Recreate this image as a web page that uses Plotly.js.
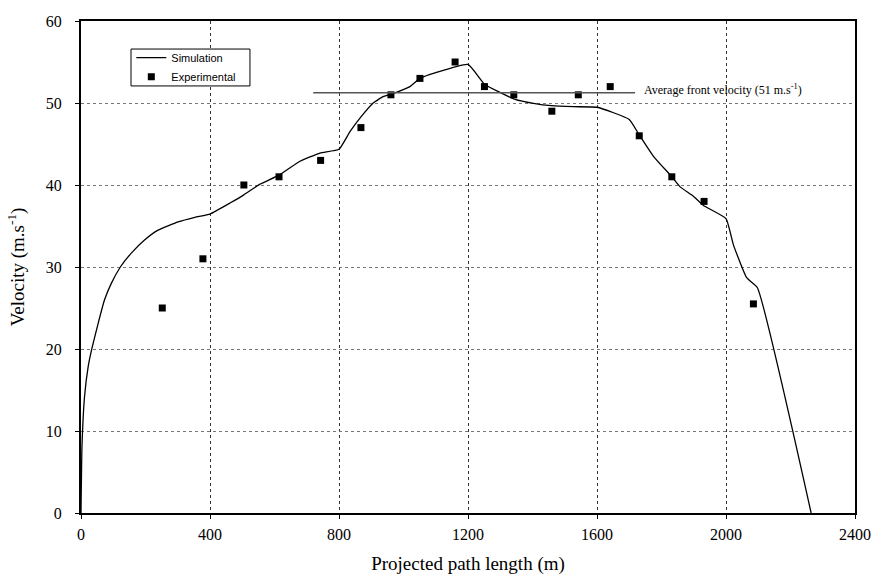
<!DOCTYPE html>
<html>
<head>
<meta charset="utf-8">
<script src="https://cdn.plot.ly/plotly-3.0.1.min.js"></script>
<style>html,body{margin:0;padding:0;background:#fff;}#chart{width:878px;height:578px;}</style>
</head>
<body>
<div id="chart"></div>
<script>
// Simulation curve (projected path length in m, velocity in m/s)
var simX = [0, 3, 11, 22, 34, 53, 73, 94, 122, 156, 197, 239, 301, 353, 400, 462, 505, 555, 614, 679, 741, 800, 834, 868, 906, 937, 961, 1020, 1051, 1100, 1200, 1251, 1299, 1346, 1403, 1459, 1527, 1600, 1700, 1731, 1775, 1832, 1857, 1898, 1930, 2000, 2023, 2064, 2097, 2264];
var simY = [0, 8.1, 14.2, 17.8, 20.1, 23.1, 26.0, 28.0, 30.0, 31.7, 33.3, 34.5, 35.5, 36.06, 36.46, 37.8, 38.8, 40.1, 41.2, 42.9, 43.9, 44.35, 46.5, 48.3, 50.0, 50.77, 51.06, 52.0, 53.0, 53.7, 54.7, 52.3, 51.3, 50.45, 49.96, 49.67, 49.55, 49.48, 48.0, 46.1, 43.5, 41.0, 39.8, 38.66, 37.5, 35.9, 32.7, 28.7, 27.5, 0];

// Experimental points
var expX = [252, 378, 505, 614, 743, 868, 961, 1051, 1160, 1251, 1342, 1460, 1542, 1641, 1731, 1832, 1932, 2085];
var expY = [25, 31, 40, 41, 43, 47, 51, 53, 55, 52, 51, 49, 51, 52, 46, 41, 38, 25.5];

// Average front velocity line
var avgX = [720, 1718];
var avgY = [51.25, 51.25];
var avgLabel = "Average front velocity (51 m.s<sup>-1</sup>)";

var xTicks = [0, 400, 800, 1200, 1600, 2000, 2400];
var yTicks = [0, 10, 20, 30, 40, 50, 60];

var traces = [
  {x: simX, y: simY, mode: 'lines', name: 'Simulation', line: {color: '#000', width: 1.3, shape: 'spline', smoothing: 0.4}},
  {x: expX, y: expY, mode: 'markers', name: 'Experimental', marker: {symbol: 'square', size: 7, color: '#000'}},
  {x: avgX, y: avgY, mode: 'lines', showlegend: false, line: {color: '#555', width: 1.5}, hoverinfo: 'skip'}
];

var serif = '"Liberation Serif", "Times New Roman", serif';
var layout = {
  width: 878, height: 578,
  margin: {l: 81, r: 23, t: 21, b: 65},
  paper_bgcolor: '#fff', plot_bgcolor: '#fff',
  showlegend: true,
  legend: {x: 0.065, y: 0.955, xanchor: 'left', yanchor: 'top', bgcolor: 'rgba(0,0,0,0)', borderwidth: 0,
           font: {family: '"Liberation Sans", Arial, sans-serif', size: 11, color: '#000'}, tracegroupgap: 0, itemwidth: 30},
  shapes: [
    {type: 'rect', xref: 'paper', yref: 'paper', x0: 0.0646, x1: 0.2183, y0: 0.868, y1: 0.943,
     fillcolor: '#fff', line: {color: '#000', width: 1}, layer: 'above'}
  ],
  xaxis: {range: [0, 2400], tickvals: xTicks, ticktext: xTicks.map(String), showline: true, linecolor: '#000', linewidth: 2, mirror: true,
          ticks: 'outside', ticklen: 4, tickcolor: '#000', showgrid: true, gridcolor: '#333', griddash: 'dot', gridwidth: 1, zeroline: false,
          tickfont: {family: serif, size: 16, color: '#000'}, ticklabelstandoff: 2,
          title: {text: 'Projected path length (m)', font: {family: serif, size: 19, color: '#000'}, standoff: 14}},
  yaxis: {range: [0, 60], tickvals: yTicks, ticktext: yTicks.map(String), showline: true, linecolor: '#000', linewidth: 2, mirror: true,
          ticks: 'outside', ticklen: 4, tickcolor: '#000', showgrid: true, gridcolor: '#777', griddash: 'dot', gridwidth: 1, zeroline: false,
          tickfont: {family: serif, size: 16, color: '#000'}, ticklabelstandoff: 10,
          title: {text: 'Velocity (m.s<sup>-1</sup>)', font: {family: serif, size: 19, color: '#000'}, standoff: 16}},
  annotations: [
    {x: 1741, y: 51.7, xref: 'x', yref: 'y', text: avgLabel, showarrow: false, xanchor: 'left', yanchor: 'middle',
     font: {family: serif, size: 12, color: '#000'}}
  ]
};

Plotly.newPlot('chart', traces, layout, {displayModeBar: false, staticPlot: true});
</script>
</body>
</html>
